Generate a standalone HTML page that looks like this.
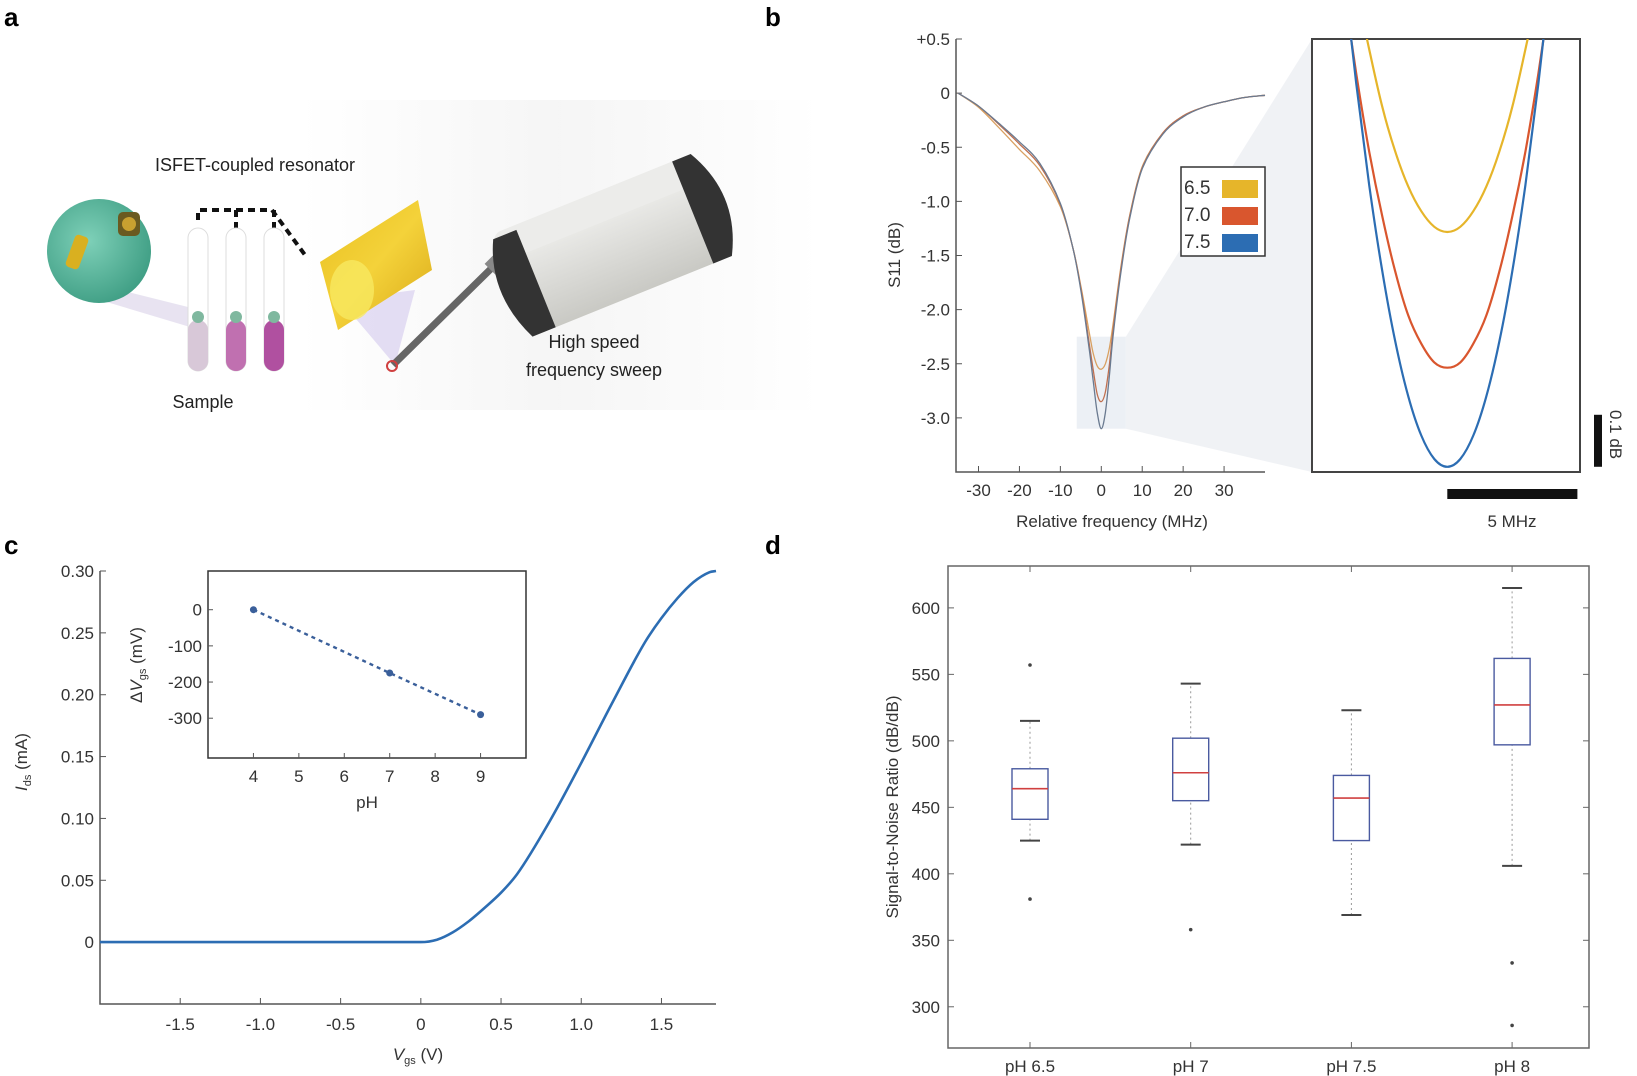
<!DOCTYPE html>
<html><head><meta charset="utf-8"><style>
html,body{margin:0;padding:0;background:#fff}
svg{display:block;font-family:"Liberation Sans",sans-serif}
.tk{font-size:17px;fill:#333}
</style></head><body>
<svg id="fig" width="1637" height="1076" viewBox="0 0 1637 1076">
<defs>
<linearGradient id="bgA" x1="0" y1="0" x2="1" y2="0"><stop offset="0" stop-color="#fff"/><stop offset="0.5" stop-color="#f3f3f3"/><stop offset="1" stop-color="#fff"/></linearGradient>
<radialGradient id="grn" cx="0.4" cy="0.4" r="0.7"><stop offset="0" stop-color="#7ed0b8"/><stop offset="1" stop-color="#3a9a80"/></radialGradient>
<linearGradient id="gold" x1="0" y1="0" x2="1" y2="1"><stop offset="0" stop-color="#e8c020"/><stop offset="0.5" stop-color="#f4d23a"/><stop offset="1" stop-color="#d9a818"/></linearGradient>
<linearGradient id="dev" x1="0" y1="0" x2="0" y2="1"><stop offset="0" stop-color="#f4f4f2"/><stop offset="1" stop-color="#c9c9c4"/></linearGradient>
</defs>

<text x="4" y="26" font-size="26" font-weight="bold">a</text>
<text x="765" y="26" font-size="26" font-weight="bold">b</text>
<text x="4" y="554" font-size="26" font-weight="bold">c</text>
<text x="765" y="554" font-size="26" font-weight="bold">d</text>

<g>
<rect x="300" y="100" width="520" height="310" fill="url(#bgA)" opacity="0.8"/>
<polygon points="80,280 200,310 200,330 100,300" fill="#d8d0e8" opacity="0.6"/>
<circle cx="99" cy="251" r="52" fill="url(#grn)"/>
<rect x="70" y="235" width="14" height="34" rx="4" fill="#d9b020" transform="rotate(20 77 252)"/>
<rect x="118" y="212" width="22" height="24" rx="5" fill="#6a5a20"/>
<circle cx="129" cy="224" r="7" fill="#c8a030"/>
<path d="M198,220 V210 H272 L305,255" fill="none" stroke="#111" stroke-width="4" stroke-dasharray="7,5"/>
<path d="M236,210 V228 M274,210 V228" stroke="#111" stroke-width="4" stroke-dasharray="7,5"/>
<g>
<rect x="188" y="228" width="20" height="143" rx="10" fill="#fff" stroke="#ddd"/>
<rect x="188" y="320" width="20" height="51" rx="10" fill="#d8c8d8"/>
<circle cx="198" cy="317" r="6" fill="#7fb89f"/>
<rect x="226" y="228" width="20" height="143" rx="10" fill="#fff" stroke="#ddd"/>
<rect x="226" y="320" width="20" height="51" rx="10" fill="#c070b0"/>
<circle cx="236" cy="317" r="6" fill="#7fb89f"/>
<rect x="264" y="228" width="20" height="143" rx="10" fill="#fff" stroke="#ddd"/>
<rect x="264" y="320" width="20" height="51" rx="10" fill="#b050a0"/>
<circle cx="274" cy="317" r="6" fill="#7fb89f"/>
</g>
<polygon points="340,300 415,290 395,365" fill="#d8d0f0" opacity="0.7"/>
<polygon points="320,262 418,200 432,270 338,330" fill="url(#gold)"/>
<ellipse cx="352" cy="290" rx="22" ry="30" fill="#f8e860" opacity="0.8"/>
<line x1="393" y1="365" x2="505" y2="255" stroke="#666" stroke-width="7"/>
<rect x="488" y="250" width="30" height="22" fill="#888" transform="rotate(-45 503 261)"/>
<circle cx="392" cy="366" r="5" fill="none" stroke="#d04040" stroke-width="2"/>
<g transform="rotate(-22 600 250)">
<rect x="505" y="195" width="215" height="110" rx="12" fill="url(#dev)"/>
<rect x="505" y="195" width="215" height="30" rx="10" fill="#ececea"/>
<path d="M505,200 Q480,250 505,305 L530,305 L530,200 Z" fill="#333"/>
<path d="M720,195 Q750,250 720,305 L700,305 L700,195 Z" fill="#333"/>
</g>
<text x="255" y="171" font-size="18" text-anchor="middle" fill="#222">ISFET-coupled resonator</text>
<text x="203" y="408" font-size="18" text-anchor="middle" fill="#222">Sample</text>
<text x="594" y="348" font-size="18" text-anchor="middle" fill="#222">High speed</text>
<text x="594" y="376" font-size="18" text-anchor="middle" fill="#222">frequency sweep</text>
</g>

<g id="pb"></g>
<g id="pc"></g>
<g id="pd"></g>
</svg>
<script>
const bFreq = [-35,-30,-25,-20,-15,-10,-7,-5,-3,-2,-1,0,1,2,3,5,7,10,15,20,25,30,35,40];
const bS65 = [0,-0.13,-0.32,-0.52,-0.72,-1.05,-1.42,-1.78,-2.2,-2.4,-2.52,-2.55,-2.5,-2.35,-2.1,-1.55,-1.12,-0.68,-0.37,-0.21,-0.13,-0.08,-0.04,-0.02];
const bS70 = [0,-0.12,-0.29,-0.47,-0.67,-1.03,-1.42,-1.8,-2.3,-2.55,-2.78,-2.85,-2.76,-2.5,-2.15,-1.57,-1.13,-0.69,-0.37,-0.21,-0.13,-0.08,-0.04,-0.02];
const bS75 = [0,-0.12,-0.28,-0.45,-0.65,-1.02,-1.42,-1.82,-2.35,-2.65,-2.95,-3.1,-2.95,-2.6,-2.2,-1.6,-1.15,-0.7,-0.38,-0.22,-0.13,-0.08,-0.04,-0.02];
const bYTicks = [0.5,0,-0.5,-1.0,-1.5,-2.0,-2.5,-3.0];
const bYLabels = ["+0.5","0","-0.5","-1.0","-1.5","-2.0","-2.5","-3.0"];
const bXTicks = [-30,-20,-10,0,10,20,30];
const legendLabels = ["6.5","7.0","7.5"];
const insetFreq = [-4,-3.5,-3,-2.5,-2,-1.5,-1,-0.5,0,0.5,1,1.5,2,2.5,3,3.5,4];
const inset65 = [-2.03,-2.18,-2.30,-2.41,-2.496,-2.563,-2.61,-2.64,-2.65,-2.64,-2.61,-2.563,-2.496,-2.41,-2.30,-2.18,-2.03];
const inset70 = [-2.174,-2.346,-2.496,-2.62,-2.726,-2.81,-2.864,-2.90,-2.91,-2.90,-2.864,-2.81,-2.726,-2.62,-2.496,-2.346,-2.174];
const inset75 = [-2.14,-2.365,-2.56,-2.725,-2.86,-2.965,-3.04,-3.085,-3.10,-3.085,-3.04,-2.965,-2.86,-2.725,-2.56,-2.365,-2.14];
const cV = [-2.0,-1.5,-1.0,-0.5,0,0.1,0.2,0.3,0.4,0.5,0.6,0.8,1.0,1.2,1.4,1.5,1.6,1.7,1.8,1.84];
const cI = [0,0,0,0,0,0.002,0.008,0.017,0.028,0.04,0.055,0.097,0.145,0.195,0.243,0.262,0.278,0.291,0.299,0.3];
const cYTicks = [0,0.05,0.10,0.15,0.20,0.25,0.30];
const cYLabels = ["0","0.05","0.10","0.15","0.20","0.25","0.30"];
const cXTicks = [-1.5,-1.0,-0.5,0,0.5,1.0,1.5];
const cXLabels = ["-1.5","-1.0","-0.5","0","0.5","1.0","1.5"];
const inPH = [4,7,9];
const inDV = [0,-175,-290];
const inXTicks = [4,5,6,7,8,9];
const inYTicks = [0,-100,-200,-300];
const dCats = ["pH 6.5","pH 7","pH 7.5","pH 8"];
const dLow = [425,422,369,406];
const dQ1 = [441,455,425,497];
const dMed = [464,476,457,527];
const dQ3 = [479,502,474,562];
const dHigh = [515,543,523,615];
const dOutliers = [[557,381],[358],[],[333,286]];
const dYTicks = [300,350,400,450,500,550,600];

const NS="http://www.w3.org/2000/svg";
function mk(parent,tag,attrs,text){const e=document.createElementNS(NS,tag);for(const k in attrs)e.setAttribute(k,attrs[k]);if(text!==undefined)e.textContent=text;parent.appendChild(e);return e;}
function lin(d0,d1,r0,r1){return v=>r0+(v-d0)/(d1-d0)*(r1-r0);}
function smooth(pts){let d="M"+pts[0][0].toFixed(1)+","+pts[0][1].toFixed(1);for(let i=0;i<pts.length-1;i++){const p0=pts[i-1]||pts[i],p1=pts[i],p2=pts[i+1],p3=pts[i+2]||p2;const c1=[p1[0]+(p2[0]-p0[0])/6,p1[1]+(p2[1]-p0[1])/6],c2=[p2[0]-(p3[0]-p1[0])/6,p2[1]-(p3[1]-p1[1])/6];d+="C"+c1.map(v=>v.toFixed(1))+" "+c2.map(v=>v.toFixed(1))+" "+p2.map(v=>v.toFixed(1));}return d;}
function monotone(pts){const n=pts.length,dx=[],s=[],m=[];for(let i=0;i<n-1;i++){dx[i]=pts[i+1][0]-pts[i][0];s[i]=(pts[i+1][1]-pts[i][1])/dx[i];}
 m[0]=s[0];m[n-1]=s[n-2];for(let i=1;i<n-1;i++){m[i]=(s[i-1]*s[i]<=0)?0:(s[i-1]+s[i])/2;}
 for(let i=0;i<n-1;i++){if(s[i]===0){m[i]=0;m[i+1]=0;continue;}const a=m[i]/s[i],b=m[i+1]/s[i],h=a*a+b*b;if(h>9){const t=3/Math.sqrt(h);m[i]=t*a*s[i];m[i+1]=t*b*s[i];}}
 let d="M"+pts[0][0].toFixed(1)+","+pts[0][1].toFixed(1);
 for(let i=0;i<n-1;i++){const h=dx[i]/3;d+="C"+(pts[i][0]+h).toFixed(1)+","+(pts[i][1]+m[i]*h).toFixed(1)+" "+(pts[i+1][0]-h).toFixed(1)+","+(pts[i+1][1]-m[i+1]*h).toFixed(1)+" "+pts[i+1][0].toFixed(1)+","+pts[i+1][1].toFixed(1);}
 return d;}
const COL={y:"#e6b52a",o:"#d9562e",b:"#2c6db3"};

(function(){
const g=document.getElementById('pb');
const L=956,R=1265,T=39,B=472;
const x=lin(-35.5,40,L,R), y=lin(-3.5,0.5,B,T);
const zr=mk(g,'rect',{x:x(-6),y:y(-2.25),width:x(6)-x(-6),height:y(-3.1)-y(-2.25),fill:"#dfe6ee",opacity:0.6});


mk(g,'polygon',{points:`${x(6)},${y(-2.25)} 1312,39 1312,472 ${x(6)},${y(-3.1)}`,fill:"#e9edf1",opacity:0.7});
mk(g,'path',{d:`M${L},${T}V${B}H${R}`,fill:"none",stroke:"#555","stroke-width":1.5});
bYTicks.forEach((v,i)=>{mk(g,'line',{x1:L,x2:L+6,y1:y(v),y2:y(v),stroke:"#555"});
 const t=mk(g,'text',{x:L-6,y:y(v)+6,"text-anchor":"end",class:"tk"},bYLabels[i]);
 
 });
bXTicks.forEach(v=>{mk(g,'line',{x1:x(v),x2:x(v),y1:B,y2:B-6,stroke:"#555"});
 const t=mk(g,'text',{x:x(v),y:B+24,"text-anchor":"middle",class:"tk"},String(v));
 
 });
const yt=mk(g,'text',{x:0,y:0,transform:`translate(900,255) rotate(-90)`,"text-anchor":"middle",class:"tk"},"S11 (dB)");


const xt=mk(g,'text',{x:1112,y:527,"text-anchor":"middle",class:"tk"},"Relative frequency (MHz)");


[[bS65,"#d9a060"],[bS70,"#c07050"],[bS75,"#6a7a90"]].forEach((s,i)=>{
 const p=mk(g,'path',{d:smooth(bFreq.map((f,j)=>[x(f),y(s[0][j])])),fill:"none",stroke:s[1],"stroke-width":1.3});
 
 });
const lg=mk(g,'g',{});


mk(lg,'rect',{x:1181,y:167,width:84,height:89,fill:"#fff",stroke:"#333","stroke-width":1.5});
[COL.y,COL.o,COL.b].forEach((c,i)=>{
 const e=mk(lg,'g',{});
 
 
 mk(e,'text',{x:1184,y:194+i*27,class:"tk",style:"font-size:19px"},legendLabels[i]);
 mk(e,'rect',{x:1222,y:180+i*27,width:36,height:18,fill:c});});
const IL=1312,IR=1580,IT=39,IB=472;
const ix=lin(-5.2,5.1,IL,IR), iy=lin(-3.11,-2.28,IB,IT);
mk(g,'clipPath',{id:"ic"}).appendChild(document.createElementNS(NS,'rect'));
const cr=g.querySelector('#ic rect');cr.setAttribute('x',IL);cr.setAttribute('y',IT);cr.setAttribute('width',IR-IL);cr.setAttribute('height',IB-IT);
const ib=mk(g,'rect',{x:IL,y:IT,width:IR-IL,height:IB-IT,fill:"#fff",stroke:"#444","stroke-width":2});


[[inset65,COL.y],[inset70,COL.o],[inset75,COL.b]].forEach((s,i)=>{
 const p=mk(g,'path',{d:smooth(insetFreq.map((f,j)=>[ix(f),iy(s[0][j])])),fill:"none",stroke:s[1],"stroke-width":2.2,"clip-path":"url(#ic)"});
 
 });
const sb1=mk(g,'rect',{x:1594,y:iy(-3.1)-52,width:8,height:52,fill:"#111"});


mk(g,'text',{transform:"translate(1610,410) rotate(90)",class:"tk"},"0.1 dB");
const sb2=mk(g,'rect',{x:ix(0),y:489,width:ix(5)-ix(0),height:10,fill:"#111"});


mk(g,'text',{x:1512,y:527,"text-anchor":"middle",class:"tk"},"5 MHz");
})();

(function(){
const g=document.getElementById('pc');
const L=100,R=716,T=571,B=1004;
const x=lin(-2.0,1.84,L,R), y=lin(-0.05,0.30,B,T);
mk(g,'path',{d:`M${L},${T}V${B}H${R}`,fill:"none",stroke:"#555","stroke-width":1.5});
cYTicks.forEach((v,i)=>{mk(g,'line',{x1:L,x2:L+6,y1:y(v),y2:y(v),stroke:"#555"});
 const t=mk(g,'text',{x:L-6,y:y(v)+6,"text-anchor":"end",class:"tk"},cYLabels[i]);
 
 });
cXTicks.forEach((v,i)=>{mk(g,'line',{x1:x(v),x2:x(v),y1:B,y2:B-6,stroke:"#555"});
 const t=mk(g,'text',{x:x(v),y:B+26,"text-anchor":"middle",class:"tk"},cXLabels[i]);
 
 });
const yt=mk(g,'text',{transform:"translate(27,762) rotate(-90)","text-anchor":"middle",class:"tk"});


yt.innerHTML='<tspan font-style="italic">I</tspan><tspan font-size="11" dy="4">ds</tspan><tspan dy="-4"> (mA)</tspan>';
const xt=mk(g,'text',{x:418,y:1060,"text-anchor":"middle",class:"tk"});


xt.innerHTML='<tspan font-style="italic">V</tspan><tspan font-size="11" dy="4">gs</tspan><tspan dy="-4"> (V)</tspan>';
const p=mk(g,'path',{d:monotone(cV.map((v,j)=>[x(v),y(cI[j])])),fill:"none",stroke:"#2c6db3","stroke-width":2.6});


const IL=208,IR=526,IT=571,IB=758;
const ix=lin(3.0,10.0,IL,IR), iy=lin(-410,107,IB,IT);
const ib=mk(g,'rect',{x:IL,y:IT,width:IR-IL,height:IB-IT,fill:"#fff",stroke:"#333","stroke-width":1.5});


inXTicks.forEach(v=>{mk(g,'line',{x1:ix(v),x2:ix(v),y1:IB,y2:IB-5,stroke:"#555"});
 const t=mk(g,'text',{x:ix(v),y:IB+24,"text-anchor":"middle",class:"tk"},String(v));
 
 });
inYTicks.forEach(v=>{mk(g,'line',{x1:IL,x2:IL+5,y1:iy(v),y2:iy(v),stroke:"#555"});
 const t=mk(g,'text',{x:IL-6,y:iy(v)+6,"text-anchor":"end",class:"tk"},String(v));
 
 });
mk(g,'text',{x:367,y:808,"text-anchor":"middle",class:"tk"},"pH");
const iyt=mk(g,'text',{transform:"translate(142,665) rotate(-90)","text-anchor":"middle",class:"tk"});
iyt.innerHTML='Δ<tspan font-style="italic">V</tspan><tspan font-size="11" dy="4">gs</tspan><tspan dy="-4"> (mV)</tspan>';
const fl=mk(g,'path',{d:"M"+inPH.map((v,j)=>ix(v)+","+iy(inDV[j])).join("L"),fill:"none",stroke:"#3a5f9a","stroke-width":2.4,"stroke-dasharray":"4,4"});


inPH.forEach((v,j)=>{const c=mk(g,'circle',{cx:ix(v),cy:iy(inDV[j]),r:3.5,fill:"#3a5f9a"});
 
 });
})();

(function(){
const g=document.getElementById('pd');
const L=948,R=1589,T=566,B=1048;
const y=lin(269,631.5,B,T);
const x=i=>1030+i*160.7;
mk(g,'rect',{x:L,y:T,width:R-L,height:B-T,fill:"none",stroke:"#666","stroke-width":1.5});
dYTicks.forEach(v=>{mk(g,'line',{x1:L,x2:L+6,y1:y(v),y2:y(v),stroke:"#666"});
 mk(g,'line',{x1:R,x2:R-6,y1:y(v),y2:y(v),stroke:"#666"});
 const t=mk(g,'text',{x:L-8,y:y(v)+6,"text-anchor":"end",class:"tk"},String(v));
 
 });
const yt=mk(g,'text',{transform:"translate(898,807) rotate(-90)","text-anchor":"middle",class:"tk"},"Signal-to-Noise Ratio (dB/dB)");


dCats.forEach((c,i)=>{
 const cx=x(i),w=18;
 mk(g,'line',{x1:cx,x2:cx,y1:B,y2:B-6,stroke:"#666"});
 mk(g,'line',{x1:cx,x2:cx,y1:T,y2:T+6,stroke:"#666"});
 const t=mk(g,'text',{x:cx,y:B+24,"text-anchor":"middle",class:"tk"},c);
 
 
 const bg=mk(g,'g',{});
 
 
 mk(bg,'line',{x1:cx,x2:cx,y1:y(dLow[i]),y2:y(dQ1[i]),stroke:"#999","stroke-dasharray":"2,3"});
 mk(bg,'line',{x1:cx,x2:cx,y1:y(dQ3[i]),y2:y(dHigh[i]),stroke:"#999","stroke-dasharray":"2,3"});
 mk(bg,'line',{x1:cx-10,x2:cx+10,y1:y(dLow[i]),y2:y(dLow[i]),stroke:"#444","stroke-width":2});
 mk(bg,'line',{x1:cx-10,x2:cx+10,y1:y(dHigh[i]),y2:y(dHigh[i]),stroke:"#444","stroke-width":2});
 mk(bg,'rect',{x:cx-w,y:y(dQ3[i]),width:2*w,height:y(dQ1[i])-y(dQ3[i]),fill:"none",stroke:"#4a5aa0","stroke-width":1.4});
 mk(bg,'line',{x1:cx-w,x2:cx+w,y1:y(dMed[i]),y2:y(dMed[i]),stroke:"#d04040","stroke-width":1.6});
 dOutliers[i].forEach(o=>{const p=mk(bg,'circle',{cx:cx,cy:y(o),r:1.8,fill:"#444"});
  
  });
});
})();
</script>
</body></html>
